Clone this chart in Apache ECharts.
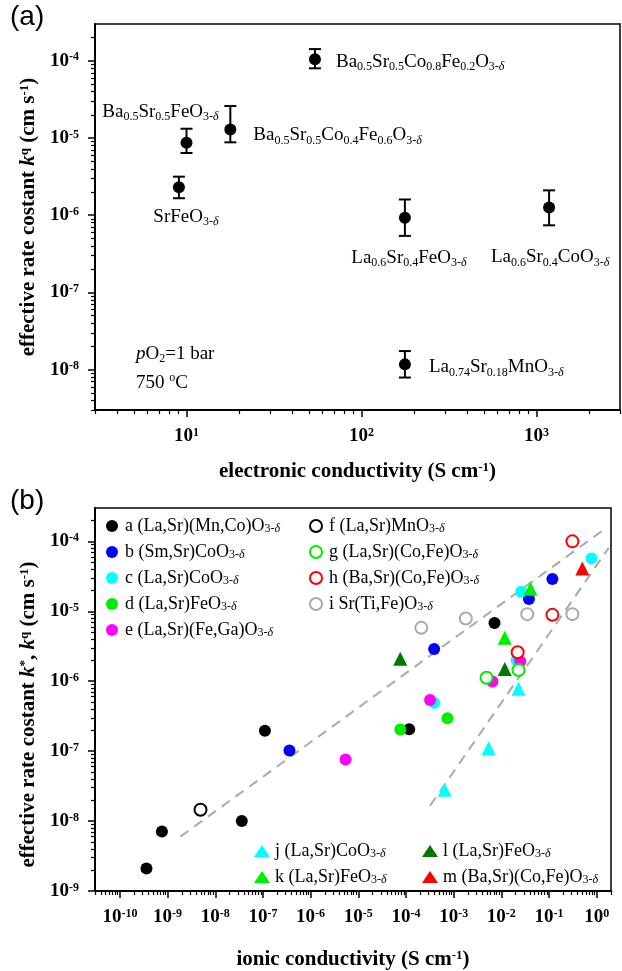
<!DOCTYPE html>
<html><head><meta charset="utf-8">
<script src="https://cdn.jsdelivr.net/npm/echarts@6/dist/echarts.min.js"></script>
<style>html,body{margin:0;padding:0;background:#fff}#c{width:622px;height:971px}</style>
</head><body><div id="c"></div>
<script>
// ---------- Panel (a) data ----------
const aLabels = [
  'Ba{s|0.5}Sr{s|0.5}Co{s|0.8}Fe{s|0.2}O{s|3-}{sd|δ}',
  'Ba{s|0.5}Sr{s|0.5}FeO{s|3-}{sd|δ}',
  'Ba{s|0.5}Sr{s|0.5}Co{s|0.4}Fe{s|0.6}O{s|3-}{sd|δ}',
  'SrFeO{s|3-}{sd|δ}',
  'La{s|0.6}Sr{s|0.4}FeO{s|3-}{sd|δ}',
  'La{s|0.6}Sr{s|0.4}CoO{s|3-}{sd|δ}',
  'La{s|0.74}Sr{s|0.18}MnO{s|3-}{sd|δ}'
];
const aSigmaE = [54.2, 10.0, 17.8, 9.05, 177, 1180, 177];
const aK      = [1.05e-4, 8.7e-6, 1.29e-5, 2.3e-6, 9.3e-7, 1.26e-6, 1.17e-8];
const aKlow   = [8.0e-5, 6.4e-6, 8.8e-6, 1.66e-6, 5.4e-7, 7.4e-7, 7.9e-9];
const aKhigh  = [1.42e-4, 1.32e-5, 2.6e-5, 3.16e-6, 1.6e-6, 2.1e-6, 1.74e-8];
const aXTicks = [10, 100, 1000];
const aYTicks = [1e-8, 1e-7, 1e-6, 1e-5, 1e-4];

// ---------- Panel (b) data ----------
const bNames = [
  'a (La,Sr)(Mn,Co)O3-δ', 'b (Sm,Sr)CoO3-δ', 'c (La,Sr)CoO3-δ', 'd (La,Sr)FeO3-δ', 'e (La,Sr)(Fe,Ga)O3-δ',
  'f (La,Sr)MnO3-δ', 'g (La,Sr)(Co,Fe)O3-δ', 'h (Ba,Sr)(Co,Fe)O3-δ', 'i Sr(Ti,Fe)O3-δ',
  'j (La,Sr)CoO3-δ', 'k (La,Sr)FeO3-δ', 'l (La,Sr)FeO3-δ', 'm (Ba,Sr)(Co,Fe)O3-δ'
];
const bSigma = [
  [3.6e-10, 7.6e-10, 3.6e-8, 1.1e-7, 1.17e-4, 7.2e-3],
  [3.6e-7, 3.9e-4, 0.038, 0.118],
  [3.9e-4, 0.021, 0.026, 0.78],
  [7.6e-5, 7.4e-4],
  [5.4e-6, 3.2e-4, 6.5e-3, 0.025],
  [4.9e-9],
  [4.9e-3, 0.023],
  [0.31, 0.118, 0.022],
  [2.1e-4, 1.8e-3, 0.035, 0.31],
  [6.5e-4, 5.4e-3, 0.023],
  [0.0118, 0.041],
  [7.6e-5, 0.0118],
  [0.5]
];
const bK = [
  [2.1e-9, 7.1e-9, 1.0e-8, 1.95e-7, 2.05e-7, 6.8e-6],
  [1.02e-7, 2.9e-6, 1.5e-5, 2.9e-5],
  [4.9e-7, 2.0e-6, 1.9e-5, 5.7e-5],
  [2.04e-7, 2.95e-7],
  [7.6e-8, 5.4e-7, 9.9e-7, 1.93e-6],
  [1.45e-8],
  [1.12e-6, 1.45e-6],
  [1.0e-4, 8.9e-6, 2.6e-6],
  [5.8e-6, 7.9e-6, 9.1e-6, 9.1e-6],
  [2.8e-8, 1.1e-7, 7.8e-7],
  [4.2e-6, 2.1e-5],
  [2.1e-6, 1.5e-6],
  [4.1e-5]
];
const trendUpperX = [1.86e-9, 1.48];
const trendUpperY = [6.0e-9, 1.5e-4];
const trendLowerX = [3.2e-4, 1.8];
const trendLowerY = [1.66e-8, 8.1e-5];
const bXTicks = [1e-10,1e-9,1e-8,1e-7,1e-6,1e-5,1e-4,1e-3,1e-2,1e-1,1];
const bYTicks = [1e-9,1e-8,1e-7,1e-6,1e-5,1e-4];

// ---------- styles ----------
const bSymbols = ['circle','circle','circle','circle','circle','emptyCircle','emptyCircle','emptyCircle','emptyCircle','triangle','triangle','triangle','triangle'];
const bColors = ['#000000','#0000ff','#00ffff','#00ee00','#ff00ff','#000000','#00ee00','#ff0000','#aaaaaa','#00ffff','#00ee00','#007700','#ff0000'];
const aLabelStyle = [
  {offset:[21,3], align:'left'},
  {offset:[-26,-31], align:'center'},
  {offset:[23,6], align:'left'},
  {offset:[7,30], align:'center'},
  {offset:[4,40], align:'center'},
  {offset:[1,50], align:'center'},
  {offset:[24,3], align:'left'}
];

const SERIF = '"Liberation Serif","Times New Roman",serif';
const subRich = {
  s: {fontSize: 12, fontFamily: SERIF, verticalAlign: 'bottom', lineHeight: 12, color:'#000'},
  sd: {fontSize: 12, fontFamily: SERIF, fontStyle:'italic', verticalAlign: 'bottom', lineHeight: 12, color:'#000'},
  sup: {fontSize: 12, fontFamily: SERIF, verticalAlign: 'top', lineHeight: 12, color:'#000'},
  i: {fontStyle: 'italic', fontSize: 19, fontFamily: SERIF, color:'#000'}
};
const boldRich = {
  sup: {fontSize: 13, fontWeight:'bold', fontFamily: SERIF, verticalAlign:'top', lineHeight: 12, color:'#000'},
  i: {fontSize: 21, fontWeight:'bold', fontStyle:'italic', fontFamily: SERIF, color:'#000'}
};

function minorVals(lo, hi) {
  const out = [];
  for (let e = Math.floor(Math.log10(lo)); e <= Math.ceil(Math.log10(hi)); e++) {
    for (let m = 2; m <= 9; m++) { const v = m * Math.pow(10, e); if (v >= lo * 0.999 && v <= hi * 1.001) out.push(v); }
  }
  return out;
}
const expFmt = v => '10{sup|' + Math.round(Math.log10(v)) + '}';
const tickLabel = {
  fontFamily: SERIF, fontWeight: 'bold', fontSize: 19, color: '#000',
  rich: {sup: {fontSize: 12, fontWeight:'bold', fontFamily: SERIF, verticalAlign:'top', lineHeight: 10, color:'#000'}}
};

function mainAxis(gridIndex, position, min, max, ticks, margin, extra) {
  return Object.assign({
    type: 'log', logBase: 10, gridIndex, position, min, max,
    axisLine: {show: true, onZero: false, lineStyle: {color: '#000', width: 2}},
    axisTick: {show: true, inside: false, length: 7, lineStyle: {color:'#000', width: 1.5}, customValues: ticks},
    axisLabel: Object.assign({formatter: expFmt, customValues: ticks, margin}, tickLabel),
    splitLine: {show: false}, minorTick: {show: false}, minorSplitLine: {show:false}
  }, extra || {});
}
function minorAxis(gridIndex, position, min, max) {
  return {
    type: 'log', logBase: 10, gridIndex, position, min, max, offset: 0,
    axisLine: {show: false, onZero: false},
    axisTick: {show: true, inside: false, length: 4, lineStyle: {color:'#000', width: 1.2}, customValues: minorVals(min, max)},
    axisLabel: {show: false},
    splitLine: {show: false}
  };
}
const titleStyle = {fontFamily: SERIF, fontWeight:'bold', fontSize: 21, color:'#000', rich: boldRich};

const xAxes = [
  mainAxis(0, 'bottom', 3, 3000, aXTicks, 17, {name: 'electronic conductivity (S cm{sup|-1})', nameLocation:'middle', nameGap: 51, nameTextStyle: titleStyle}),
  mainAxis(1, 'bottom', 3e-11, 2, bXTicks, 17, {name: 'ionic conductivity (S cm{sup|-1})', nameLocation:'middle', nameGap: 58, nameTextStyle: titleStyle}),
  minorAxis(0, 'bottom', 3, 3000),
  minorAxis(1, 'bottom', 3e-11, 2)
];
const yAxes = [
  mainAxis(0, 'left', 3e-9, 3e-4, aYTicks, 16, {name: 'effective rate costant {i|k}{sup|q} (cm s{sup|-1})', nameLocation:'middle', nameGap: 50, nameTextStyle: titleStyle}),
  mainAxis(1, 'left', 1e-9, 3e-4, bYTicks, 16, {name: 'effective rate costant {i|k}{sup|*}, {i|k}{sup|q} (cm s{sup|-1})', nameLocation:'middle', nameGap: 50,
    nameTextStyle: Object.assign({}, titleStyle, {padding:[0,0,0,-30]})}),
  minorAxis(0, 'left', 3e-9, 3e-4),
  minorAxis(1, 'left', 1e-9, 3e-4)
];

const series = [];
// error bars (a)
series.push({
  type: 'custom', xAxisIndex: 0, yAxisIndex: 0, z: 3,
  data: aSigmaE.map((x, i) => [x, aK[i], aKlow[i], aKhigh[i]]),
  encode: {x: 0, y: 1},
  renderItem: (params, api) => {
    const x = api.value(0);
    const pLo = api.coord([x, api.value(2)]);
    const pHi = api.coord([x, api.value(3)]);
    const w = 6, st = {stroke: '#000', lineWidth: 2};
    return {type: 'group', children: [
      {type:'line', shape:{x1:pLo[0], y1:pLo[1], x2:pHi[0], y2:pHi[1]}, style: st},
      {type:'line', shape:{x1:pLo[0]-w, y1:pLo[1], x2:pLo[0]+w, y2:pLo[1]}, style: st},
      {type:'line', shape:{x1:pHi[0]-w, y1:pHi[1], x2:pHi[0]+w, y2:pHi[1]}, style: st}
    ]};
  }
});
series.push({
  type: 'scatter', xAxisIndex: 0, yAxisIndex: 0, z: 4, symbol: 'circle', symbolSize: 12,
  itemStyle: {color: '#000', opacity: 1},
  data: aSigmaE.map((x, i) => ({value: [x, aK[i]], label: Object.assign({
    show: true, position: 'inside', verticalAlign: 'middle', formatter: aLabels[i], color: '#000', textBorderWidth: 0
  }, aLabelStyle[i])})),
  label: {color: '#000', fontFamily: SERIF, fontSize: 19, lineHeight: 22, rich: subRich, textBorderWidth: 0},
  emphasis: {disabled: true}
});
// trend lines (b)
[[trendUpperX, trendUpperY], [trendLowerX, trendLowerY]].forEach(([xs, ys]) => {
  series.push({
    type: 'line', xAxisIndex: 1, yAxisIndex: 1, z: 1, symbol: 'none', silent: true,
    lineStyle: {color: '#aaaaaa', width: 2, type: [10, 7]},
    data: xs.map((x, i) => [x, ys[i]])
  });
});
bNames.forEach((nm, s) => {
  const empty = bSymbols[s] === 'emptyCircle';
  series.push({
    name: nm, type: 'scatter', xAxisIndex: 1, yAxisIndex: 1, z: 5,
    symbol: bSymbols[s],
    symbolSize: bSymbols[s] === 'triangle' ? 14 : 12,
    itemStyle: empty ? {color: bColors[s], borderColor: bColors[s], borderWidth: 2, opacity: 1} : {color: bColors[s], opacity: 1},
    data: bSigma[s].map((x, i) => [x, bK[s][i]]),
    emphasis: {disabled: true}
  });
});

const legendText = {fontFamily: SERIF, fontSize: 18, color: '#000', lineHeight: 17, padding: [0,0,0,0],
  rich: {s: {fontSize: 12, fontFamily: SERIF, verticalAlign:'bottom', lineHeight: 11, color:'#000'},
         sd: {fontSize: 12, fontFamily: SERIF, fontStyle:'italic', verticalAlign:'bottom', lineHeight: 11, color:'#000'}}};
const legendFmt = n => n.replace('O3-δ', 'O{s|3-}{sd|δ}');
function legend(names, left, top) {
  return {data: names, left, top, orient: 'vertical', itemWidth: 16, itemHeight: 12, itemGap: 8,
    formatter: legendFmt, textStyle: legendText, selectedMode: false, padding: 0};
}

const chart = echarts.init(document.getElementById('c'), null, {renderer: 'canvas'});
chart.setOption({
  animation: false,
  backgroundColor: '#fff',
  grid: [
    {left: 95, top: 24, width: 525, height: 386, show: true, borderColor: '#000', borderWidth: 1.5, backgroundColor: 'transparent'},
    {left: 95, top: 508, width: 516, height: 386, show: true, borderColor: '#000', borderWidth: 1.5, backgroundColor: 'transparent'}
  ],
  xAxis: xAxes,
  yAxis: yAxes,
  legend: [
    legend(bNames.slice(0, 5), 106, 517),
    legend(bNames.slice(5, 9), 309, 517),
    legend(bNames.slice(9, 11), 254, 842),
    legend(bNames.slice(11, 13), 422, 842)
  ],
  graphic: [
    {type: 'text', left: 10, top: 3, style: {text: '(a)', font: '28px "Liberation Sans", Arial, sans-serif', fill: '#000'}},
    {type: 'text', left: 10, top: 487, style: {text: '(b)', font: '28px "Liberation Sans", Arial, sans-serif', fill: '#000'}},
    {type: 'text', left: 136, top: 343, style: {text: '{i|p}O{s|2}=1 bar', fontFamily: SERIF, fontSize: 19, fill:'#000', lineHeight: 22, rich: subRich}},
    {type: 'text', left: 136, top: 372, style: {text: '750 {sup|o}C', fontFamily: SERIF, fontSize: 19, fill:'#000', lineHeight: 22, rich: subRich}}
  ],
  series
});
</script></body></html>
